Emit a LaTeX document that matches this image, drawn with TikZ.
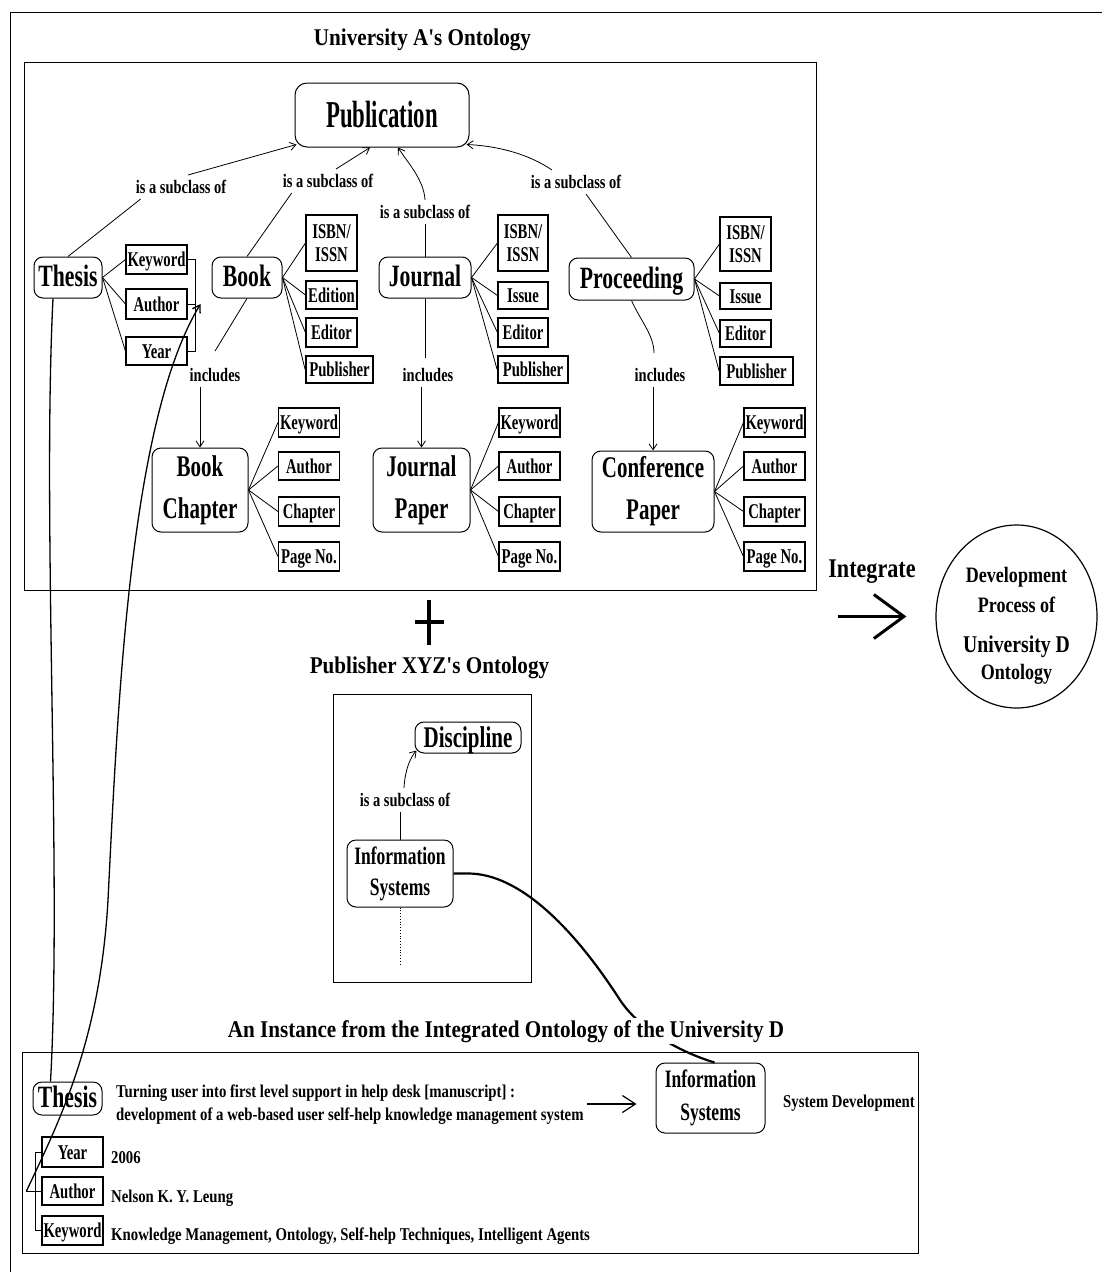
\documentclass[tikz,border=0pt]{standalone}
\usepackage{fontspec}
\setmainfont{Liberation Serif}
% condensed cuts of the serif face used throughout the figure
\newfontfamily\fP{Liberation Serif}[FakeStretch=0.6]
\newfontfamily\fN{Liberation Serif}[FakeStretch=0.7]
\newfontfamily\fL{Liberation Serif}[FakeStretch=0.76]
\newfontfamily\fT{Liberation Serif}[FakeStretch=0.82]
\newfontfamily\fH{Liberation Serif}[FakeStretch=0.88]
\usetikzlibrary{arrows.meta,shapes.geometric,calc}

\begin{document}
\begin{tikzpicture}[x=1pt, y=-1pt,
  cls/.style={draw, rounded corners=9pt, line width=1pt, inner sep=0pt, align=center,
              font=\fN\bfseries\fontsize{31}{36}\selectfont},
  one/.style={text height=22pt, text depth=4pt},
  two/.style={font=\fN\bfseries\fontsize{30}{42}\selectfont},
  att/.style={draw, line width=1.1pt, inner sep=0pt, align=center,
              font=\fN\bfseries\fontsize{21}{23}\selectfont},
  aone/.style={text height=14pt, text depth=0pt},
  pubbox/.style={line width=1.8pt},
  lbl/.style={inner sep=5pt, font=\fL\bfseries\fontsize{19}{21}\selectfont},
  ttl/.style={inner sep=0pt, anchor=base, font=\fH\bfseries\fontsize{24}{28}\selectfont},
  txt/.style={inner sep=0pt, anchor=base west, font=\fT\bfseries\fontsize{18}{22}\selectfont},
  frame/.style={draw, line width=1pt},
  link/.style={line width=0.8pt},
  isa/.style={link, -{Straight Barb[length=6pt,width=8pt]}},
]
\useasboundingbox (0,0) rectangle (1102,1272);

% outer frame
\draw[line width=1pt] (1102,12) -- (10,12) -- (10,1272);

% ---------------- University A's ontology ----------------
\node[ttl] (ttlA) at (422.5,45) {University A's Ontology};
\draw[frame] (24,62) rectangle (816,590);

\node[cls, one, font=\fP\bfseries\fontsize{38}{44}\selectfont, text height=27pt, text depth=2pt,
      rounded corners=12pt, minimum width=174pt, minimum height=64pt] (pub) at (382,115) {Publication};

% Thesis
\node[cls, one, minimum width=68pt, minimum height=41pt] (thesis) at (68,277.5) {Thesis};
\node[att, aone, minimum width=61pt, minimum height=29pt] (tk) at (156.5,259.5) {Keyword};
\node[att, aone, minimum width=61pt, minimum height=30pt] (ta) at (156.5,304) {Author};
\node[att, aone, minimum width=61pt, minimum height=28pt] (ty) at (156.5,351) {Year};

% Book
\node[cls, one, minimum width=70pt, minimum height=41pt] (book) at (247,277.5) {Book};
\node[att, minimum width=51pt, minimum height=56pt] (bisbn) at (331.5,243) {ISBN/\\ISSN};
\node[att, aone, minimum width=51pt, minimum height=28pt] (bed) at (331.5,295) {Edition};
\node[att, aone, minimum width=51pt, minimum height=29pt] (bedr) at (331.5,332.5) {Editor};
\node[att, aone, pubbox, minimum width=67pt, minimum height=27pt] (bpub) at (339.5,369.5) {Publisher};

% Journal
\node[cls, one, minimum width=92pt, minimum height=41pt] (journal) at (425,277.5) {Journal};
\node[att, minimum width=50pt, minimum height=56pt] (jisbn) at (523,243) {ISBN/\\ISSN};
\node[att, aone, minimum width=50pt, minimum height=27pt] (jiss) at (523,295.5) {Issue};
\node[att, aone, minimum width=50pt, minimum height=29pt] (jedr) at (523,332.5) {Editor};
\node[att, aone, pubbox, minimum width=70pt, minimum height=27pt] (jpub) at (533,369.5) {Publisher};

% Proceeding
\node[cls, one, minimum width=125pt, minimum height=42pt] (proc) at (631.5,279) {Proceeding};
\node[att, minimum width=51pt, minimum height=54pt] (pisbn) at (745.5,244) {ISBN/\\ISSN};
\node[att, aone, minimum width=51pt, minimum height=26pt] (piss) at (745.5,296) {Issue};
\node[att, aone, minimum width=51pt, minimum height=27pt] (pedr) at (745.5,333.5) {Editor};
\node[att, aone, pubbox, minimum width=73pt, minimum height=28pt] (ppub) at (756.5,371) {Publisher};

% relation labels
\node[lbl] (l1) at (181,187) {is a subclass of};
\node[lbl] (l2) at (328,181) {is a subclass of};
\node[lbl] (l3) at (425,212) {is a subclass of};
\node[lbl] (l4) at (576,182) {is a subclass of};
\node[lbl] (i1) at (215,375) {includes};
\node[lbl] (i2) at (428,375) {includes};
\node[lbl] (i3) at (660,375) {includes};

% lower row
\node[cls, two, minimum width=96pt, minimum height=84pt] (bc) at (200,490) {Book\\Chapter};
\node[cls, two, minimum width=97pt, minimum height=84pt] (jp) at (421.5,490) {Journal\\Paper};
\node[cls, two, minimum width=122pt, minimum height=81pt] (cp) at (653,491.5) {Conference\\Paper};

\foreach \p/\x in {bc/309, jp/529.5, cp/774.5} {
  \node[att, aone, minimum width=61pt, minimum height=29pt] (\p k) at (\x,422.5) {Keyword};
  \node[att, aone, minimum width=61pt, minimum height=28pt] (\p a) at (\x,466) {Author};
  \node[att, aone, minimum width=61pt, minimum height=29pt] (\p c) at (\x,511.5) {Chapter};
  \node[att, aone, minimum width=61pt, minimum height=29pt] (\p p) at (\x,556.5) {Page No.};
  \draw[link] (\p.east) -- (\p k.west);
  \draw[link] (\p.east) -- (\p a.west);
  \draw[link] (\p.east) -- (\p c.west);
  \draw[link] (\p.east) -- (\p p.west);
}

% attribute fans
\foreach \a in {tk,ta,ty} \draw[link] (thesis.east) -- (\a.west);
\foreach \a in {bisbn,bed,bedr,bpub} \draw[link] (book.east) -- (\a.west);
\foreach \a in {jisbn,jiss,jedr,jpub} \draw[link] (journal.east) -- (\a.west);
\foreach \a in {pisbn,piss,pedr,ppub} \draw[link] (proc.east) -- (\a.west);

% subclass links
\draw[link] (thesis.north) -- ([xshift=10pt]l1.south west);
\draw[isa] ([xshift=7pt]l1.north) -- ([xshift=2pt,yshift=3pt]pub.south west);
\draw[link] (book.north) -- ([xshift=14pt]l2.south west);
\draw[isa] ([xshift=8pt]l2.north) -- ([xshift=-12pt]pub.south);
\draw[link] (journal.north) -- (l3.south);
\draw[isa] (l3.north) .. controls (424,180) and (408,163) .. ([xshift=16pt]pub.south);
\draw[link] (proc.north) -- ([xshift=10pt]l4.south);
\draw[isa] ([xshift=-24pt]l4.north) .. controls (530,155) and (500,146) .. ([xshift=-3pt,yshift=3pt]pub.south east);

% includes links
\draw[link] (book.south) -- ([yshift=12pt]i1.north);
\draw[isa] (i1.south -| bc.north) -- (bc.north);
\draw[link] (journal.south) -- ($(journal.south |- i2.north)+(0,-5)$);
\draw[isa] (i2.south -| jp.north) -- (jp.north);
\draw[link] (proc.south) .. controls (640,320) and (654,335) .. ($(i3.north)+(-6,-10)$);
\draw[isa] (i3.south -| cp.north) -- (cp.north);

% grouping bracket on the thesis attributes
\draw[link] (tk.east) -- ++(8,0) |- (ty.east);
\draw[link] (ta.east) -- ++(8,0);
\coordinate (tbr) at ([xshift=13pt]ta.east);

% ---------------- integration ----------------
\draw[line width=3.5pt] (429,600) -- (429,645);
\draw[line width=4.5pt] (415,622) -- (444,622);

\node[inner sep=0pt, anchor=base, font=\fT\bfseries\fontsize{27}{30}\selectfont] (integ) at (872,577) {Integrate};
\node[draw, ellipse, line width=1.2pt, minimum width=161pt, minimum height=183pt, inner sep=0pt] (dev) at (1016.5,616.5) {};
\node[anchor=north, inner sep=0pt, align=center, font=\fT\bfseries\fontsize{22}{30}\selectfont] (devtxt) at (1016.5,567)
  {Development\\Process of\\[10pt]{\fontsize{24}{30}\selectfont University D}\\[-3pt]Ontology};
\draw[line width=3pt, -{Straight Barb[length=30pt,width=44pt]}] ([xshift=-97pt]dev.west) -- ([xshift=-29pt]dev.west);

% ---------------- Publisher XYZ's ontology ----------------
\node[ttl] (ttlX) at (429.5,673) {Publisher XYZ's Ontology};
\draw[frame] (333,694) rectangle (531,982);
\node[cls, one, font=\fN\bfseries\fontsize{30}{34}\selectfont, text height=21pt, text depth=1pt,
      minimum width=106pt, minimum height=31pt] (disc) at (468,737.5) {Discipline};
\node[cls, font=\fN\bfseries\fontsize{25}{31}\selectfont, minimum width=106pt, minimum height=67pt] (isx) at (400,873.5) {Information\\Systems};
\node[lbl] (l5) at (405,800) {is a subclass of};
\coordinate (dotend) at (400,965);
\draw[link] (isx.north) -- (isx.north |- l5.south);
\draw[isa] ([xshift=-1pt]l5.north) .. controls (405,770) and (410,758) .. ([xshift=2pt,yshift=3pt]disc.south west);
\draw[link, dotted] (isx.south) -- (dotend);

% ---------------- instance of the integrated ontology ----------------
\draw[frame] (22,1052) rectangle (918,1253);
\node[cls, one, minimum width=69pt, minimum height=33pt] (bth) at (67.5,1098.5) {Thesis};
\node[txt] (t1) at (116,1097) {Turning user into first level support in help desk [manuscript] :};
\node[txt] (t2) at (116,1120) {development of a web-based user self-help knowledge management system};
\node[cls, font=\fN\bfseries\fontsize{25}{33}\selectfont, minimum width=109pt, minimum height=70pt] (isb) at (710.5,1098) {Information\\Systems};
\node[txt] (sd) at (783,1107) {System Development};
\coordinate (sa) at (587,1104);
\draw[line width=1.2pt, -{Straight Barb[length=13pt,width=17pt]}] (sa) -- ($(sa -| isb.west)+(-19,0)$);

\node[att, aone, minimum width=61pt, minimum height=30pt] (by) at (72.5,1152) {Year};
\node[att, aone, minimum width=61pt, minimum height=28pt] (ba) at (72.5,1191) {Author};
\node[att, aone, minimum width=61pt, minimum height=29pt] (bk) at (72.5,1230.5) {Keyword};
\node[txt] (v1) at (111,1163) {2006};
\node[txt] (v2) at (111,1202) {Nelson K. Y. Leung};
\node[txt] (v3) at (111,1240) {Knowledge Management, Ontology, Self-help Techniques, Intelligent Agents};

\draw[link] (by.west) -- ++(-6,0) |- (bk.west);
\draw[link] (ba.west) -- ++(-15,0) coordinate (bbr);

% the discipline link into the instance, passing behind its caption
\draw[line width=2.2pt] (isx.east) -- ++(14,0) .. controls (520,873) and (575,930) .. (620,1000)
  .. controls (640,1030) and (680,1052) .. ([xshift=4pt]isb.north);
\node[ttl, fill=white, inner sep=2pt] (ttlI) at (506,1037) {An Instance from the Integrated Ontology of the University D};

% mappings from University A's thesis to the instance
\draw[line width=1.3pt] ([xshift=-15pt]thesis.south) .. controls (42,520) and (62,880) .. ([xshift=-17pt]bth.north);
\draw[line width=1.3pt, -{Straight Barb[length=7pt,width=9pt]}] (bbr) .. controls (60,1120) and (100,1040) .. (108,900)
  .. controls (118,700) and (130,420) .. (tbr);
\end{tikzpicture}
\end{document}
